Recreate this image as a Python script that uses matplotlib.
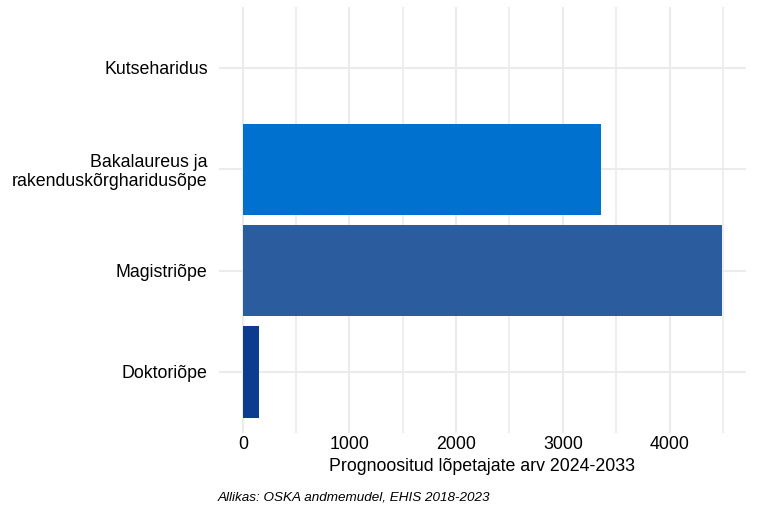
import numpy as np
import matplotlib
matplotlib.use("Agg")
import matplotlib.pyplot as plt
from matplotlib.ticker import MultipleLocator

categories = ["Doktoriõpe", "Magistriõpe", "Bakalaureus ja\nrakenduskõrgharidusõpe", "Kutseharidus"]
values = [153, 4490, 3355, 0]
colors = ["#0c3c8f", "#2b5c9e", "#0071cf", "#0071cf"]
x_ticks = [0, 1000, 2000, 3000, 4000]
x_title = "Prognoositud lõpetajate arv 2024-2033"
caption = "Allikas: OSKA andmemudel, EHIS 2018-2023"

plt.rcParams["font.family"] = ["Liberation Sans", "DejaVu Sans"]

fig = plt.figure(figsize=(7.68, 5.12), dpi=100)
ax = fig.add_axes([0.2849, 0.1547, 0.6861, 0.8313])

ypos = np.arange(len(categories))
ax.barh(ypos, values, height=0.9, color=colors, zorder=3)

vmax = max(values)
ax.set_xlim(-0.05 * vmax, 1.05 * vmax)
ax.set_ylim(-0.6, len(categories) - 0.4)

ax.set_xticks(x_ticks)
ax.xaxis.set_minor_locator(MultipleLocator(500))
ax.set_yticks(ypos)
ax.set_yticklabels(categories, linespacing=1.1)

ax.grid(which="major", color="#ebebeb", linewidth=1.5, zorder=0)
ax.grid(which="minor", axis="x", color="#ebebeb", linewidth=1.2, zorder=0)
for s in ax.spines.values():
    s.set_visible(False)
ax.tick_params(which="both", length=0, labelsize=12.8, colors="#000000")
ax.tick_params(axis="y", pad=8)
ax.tick_params(axis="x", pad=2)

ax.set_xlabel(x_title, fontsize=12.8, labelpad=4)
fig.text(218 / 768, 1 - 497 / 512, caption, fontsize=9.7, style="italic", va="center", ha="left")

fig.savefig("out.png", dpi=100)
